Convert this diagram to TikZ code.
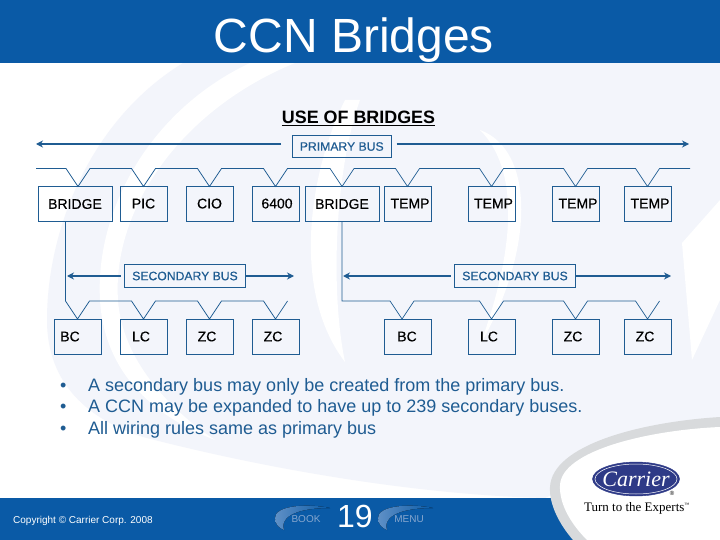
\documentclass[tikz,border=0pt]{standalone}
\usepackage{fontspec}
\setmainfont{Liberation Sans}
\newfontfamily\serifface{Liberation Serif}
\newfontfamily\boxface[FakeBold=0.5]{Liberation Sans}
\usepackage{xcolor}
\usetikzlibrary{arrows.meta,positioning,shapes.geometric}
\definecolor{barblue}{HTML}{0A5AA6}
\definecolor{linkblue}{HTML}{1F5C92}
\definecolor{paleblue}{HTML}{F3F5FB}
\definecolor{logoblue}{HTML}{2E3A87}
\definecolor{ringgray}{HTML}{D8DADC}
\definecolor{btnblue}{HTML}{5F90C6}
\definecolor{btntext}{HTML}{86A6CE}

\begin{document}
\begin{tikzpicture}[
        x=1pt, y=-1pt,
        unit/.style={rectangle, draw=linkblue, line width=0.7pt, minimum width=47pt, minimum height=35pt, inner sep=0pt, outer sep=0pt, font=\boxface\fontsize{14}{16}\selectfont},
        bridge/.style={unit, minimum width=74pt},
        busname/.style={rectangle, draw=linkblue, line width=0.7pt, text=linkblue, minimum height=22.5pt, inner sep=0pt, outer sep=0pt, font=\boxface\fontsize{12.2}{14}\selectfont},
        wire/.style={draw=linkblue, line width=0.7pt},
        bus/.style={draw=linkblue, line width=1.6pt, -{Stealth[length=7pt,width=7pt]}},
        bar/.style={fill=barblue, draw=none},
        btn/.style={text=btntext, font=\fontsize{10}{12}\selectfont, inner sep=0pt},
        crescent/.style={left color=btnblue, right color=barblue, draw=none}
    ]
        \useasboundingbox (0,0) rectangle (720,540);
        % backdrop
        \fill[white] (0,0) rectangle (720,540);
        \fill[paleblue] (183,63) .. controls (90,120) and (47,230) .. (47,320) .. controls (47,385) and (90,420) .. (143,437) .. controls (270,470) and (420,495) .. (545,498) -- (720,420) -- (720,63) -- cycle;
        \fill[white] (250,63) .. controls (150,110) and (95,210) .. (100,300) .. controls (104,370) and (150,415) .. (215,440) .. controls (170,410) and (122,360) .. (118,300) .. controls (112,210) and (180,110) .. (295,63) -- cycle;
        \fill[white] (345,100) .. controls (310,170) and (290,290) .. (345,362) .. controls (330,290) and (335,170) .. (360,100) -- cycle;
        \fill[white] (480,130) .. controls (535,150) and (535,250) .. (480,345) .. controls (515,250) and (520,170) .. (480,130) -- cycle;
        \fill[white] (682,243) -- (720,200) -- (720,300) -- (692,360) -- cycle;
        % title and footer bars
        \fill[bar] (0,0) rectangle (720,63);
        \fill[bar] (0,498) rectangle (580,540);
        \fill[ringgray] (720,417) .. controls (640,422) and (552,445) .. (550,487) .. controls (549,505) and (560,525) .. (573,540) -- (720,540) -- cycle;
        \fill[white] (720,427) .. controls (650,430) and (562,450) .. (560,485) .. controls (559,505) and (572,525) .. (587,540) -- (720,540) -- cycle;
        \node[text=white, font=\fontsize{48}{50}\selectfont, inner sep=0pt] (title) at (354,40) {CCN Bridges};
        \node[font=\bfseries\fontsize{17.9}{20}\selectfont, inner sep=0pt] (heading) at (358.5,118) {\underline{USE OF BRIDGES}};
        % primary row
        \node[bridge] (bridgeA) at (75,204) {\raisebox{-2pt}{BRIDGE}};
        \node[unit, right=8pt of bridgeA] (pic) {\raisebox{1pt}{PIC}};
        \node[unit, right=19pt of pic] (cio) {\raisebox{1pt}{CIO}};
        \node[unit, right=19pt of cio] (sixk) {\hspace*{3pt}\raisebox{1pt}{6400}};
        \node[bridge, right=6pt of sixk] (bridgeB) {\raisebox{-2pt}{BRIDGE}};
        \node[unit, right=5pt of bridgeB] (tempA) {\hspace*{5pt}\raisebox{1pt}{TEMP}};
        \node[unit, right=37pt of tempA] (tempB) {\hspace*{4pt}\raisebox{1pt}{TEMP}};
        \node[unit, right=37pt of tempB] (tempC) {\hspace*{5pt}\raisebox{1pt}{TEMP}};
        \node[unit, right=25pt of tempC] (tempD) {\hspace*{5pt}\raisebox{1pt}{TEMP}};
        % secondary row
        \node[unit, below=97.5pt of pic] (lcA) {LC\hspace*{5pt}};
        \node[unit, left=19pt of lcA] (bcA) {BC\hspace*{15pt}};
        \node[unit, below=97.5pt of cio] (zcA) {ZC\hspace*{5pt}};
        \node[unit, below=97.5pt of sixk] (zcB) {ZC\hspace*{5pt}};
        \node[unit, below=97.5pt of tempA] (bcB) {BC\hspace*{1pt}};
        \node[unit, below=97.5pt of tempB] (lcB) {LC\hspace*{5pt}};
        \node[unit, below=97.5pt of tempC] (zcC) {ZC\hspace*{5pt}};
        \node[unit, below=97.5pt of tempD] (zcD) {ZC\hspace*{5pt}};
        % bus labels
        \node[busname, minimum width=99.5pt] (primary) at (341.75,146.5) {PRIMARY BUS};
        \node[busname, minimum width=121pt] (secA) at (185,276) {SECONDARY BUS};
        \node[busname, minimum width=121pt] (secB) at (515,276) {SECONDARY BUS};
        \coordinate (primL) at (36,144);
        \coordinate (primR) at (689,144);
        \coordinate (secAL) at (67,276);
        \coordinate (secAR) at (294,276);
        \coordinate (secBL) at (343,276);
        \coordinate (secBR) at (671,276);
        \coordinate (wireL) at (36,168.5);
        \coordinate (wireR) at (690,168.5);
        \coordinate (tapA) at ([xshift=3pt]bridgeA.north);
        \coordinate (tapB) at ([xshift=-5.5pt]bcB.north);
        \coordinate (dropA) at ([xshift=-9.5pt]bridgeA.south);
        \draw[bus] ([xshift=-11pt,yshift=2.5pt]primary.west) -- (primL);
        \draw[bus] ([xshift=5pt,yshift=2.5pt]primary.east) -- (primR);
        \draw[bus] ([xshift=-4pt]secA.west) -- (secAL);
        \draw[bus] (secA.east) -- (secAR);
        \draw[bus] ([xshift=-4pt]secB.west) -- (secBL);
        \draw[bus] (secB.east) -- (secBR);
        \draw[wire] (wireL) foreach \tap in {tapA,pic.north,cio.north,sixk.north,bridgeB.north,tempA.north,tempB.north,tempC.north,tempD.north} {-- ([shift={(-12pt,18pt)}]\tap) -- (\tap) -- ([shift={(12pt,18pt)}]\tap)} -- (wireR);
        \draw[wire] (dropA) foreach \tap in {bcA.north,lcA.north,zcA.north,zcB.north} {-- ([shift={(-12pt,18pt)}]\tap) -- (\tap) -- ([shift={(12pt,18pt)}]\tap)};
        \draw[wire] (bridgeB.south) |- ([shift={(-12pt,18pt)}]tapB) -- (tapB) -- ([shift={(12pt,18pt)}]tapB) foreach \tap in {lcB.north,zcC.north,zcD.north} {-- ([shift={(-12pt,18pt)}]\tap) -- (\tap) -- ([shift={(12pt,18pt)}]\tap)};
        % notes
        \node[anchor=west, align=left, text=linkblue, inner sep=0pt, font=\fontsize{18}{21.5}\selectfont] (notes) at (60,408) {\makebox[28pt][l]{\textbullet}A secondary bus may only be created from the primary bus.\\\makebox[28pt][l]{\textbullet}A CCN may be expanded to have up to 239 secondary buses.\\\makebox[28pt][l]{\textbullet}All wiring rules same as primary bus};
        % footer
        \node[anchor=west, text=white, inner sep=0pt, font=\fontsize{10}{12}\selectfont] (copyright) at (13,521) {Copyright © Carrier Corp. 2008};
        \fill[crescent] (330,508) .. controls (305,503) and (275,506) .. (275,518) .. controls (275,524) and (279,528) .. (284,530) .. controls (280,520) and (290,508) .. (330,508) -- cycle;
        \fill[crescent] (433,508) .. controls (408,503) and (378,506) .. (378,518) .. controls (378,524) and (382,528) .. (387,530) .. controls (383,520) and (393,508) .. (433,508) -- cycle;
        \node[btn] (book) at (306,519) {BOOK};
        \node[btn] (menu) at (409,519) {MENU};
        \node[text=white, inner sep=0pt, font=\fontsize{32}{34}\selectfont] (page) at (355,516) {19};
        % logo
        \node[ellipse, fill=logoblue, draw=logoblue, minimum width=87pt, minimum height=34pt, inner sep=0pt] (logo) at (636,479) {};
        \draw[white, line width=0.5pt] (636,479) ellipse [x radius=41pt, y radius=15pt];
        \node[text=white, inner sep=0pt, font=\serifface\itshape\fontsize{22}{24}\selectfont] (carrier) at (logo) {Carrier};
        \node[inner sep=0pt, font=\fontsize{6}{7}\selectfont] (reg) at (672,493) {®};
        \node[inner sep=0pt, font=\serifface\fontsize{13}{15}\selectfont] (slogan) at (637,508) {Turn to the Experts\textsuperscript{\tiny ™}};
    \end{tikzpicture}
\end{document}
